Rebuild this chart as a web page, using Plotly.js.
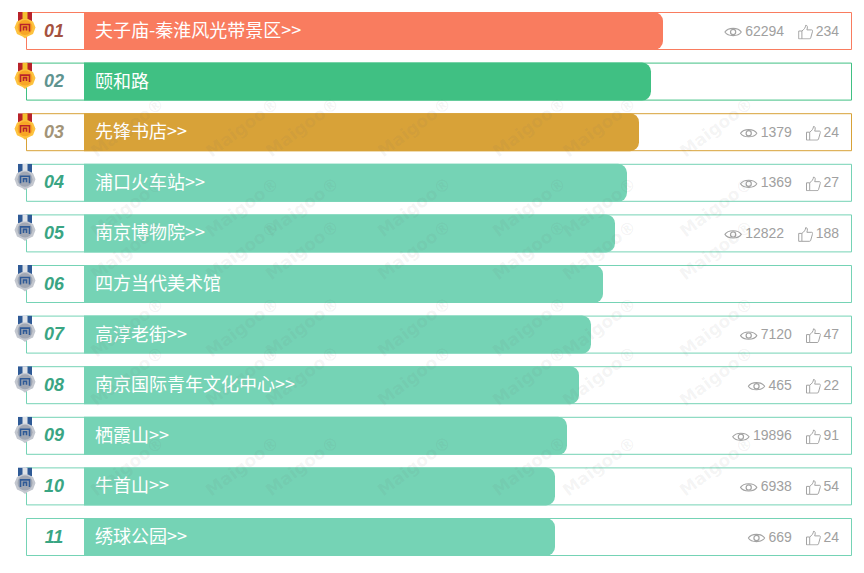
<!DOCTYPE html>
<html>
<head>
<meta charset="utf-8">
<script src="https://cdn.plot.ly/plotly-3.0.1.min.js"></script>
<style>
html, body { margin: 0; padding: 0; background: #fff; }
#graph { width: 864px; height: 573px; }
</style>
</head>
<body>
<div id="graph"></div>
<script>
// Data
const ranks = ['01', '02', '03', '04', '05', '06', '07', '08', '09', '10', '11'];
const names = ['夫子庙-秦淮风光带景区>>', '颐和路', '先锋书店>>', '浦口火车站>>', '南京博物院>>', '四方当代美术馆',
    '高淳老街>>', '南京国际青年文化中心>>', '栖霞山>>', '牛首山>>', '绣球公园>>'];
const barLengths = [579, 567, 555, 543, 531, 519, 507, 495, 483, 471, 471];
const views = [62294, null, 1379, 1369, 12822, null, 7120, 465, 19896, 6938, 669];
const likes = [234, null, 24, 27, 188, null, 47, 22, 91, 54, 24];
const barColors = ['#f97c5f', '#40c083', '#d8a238', '#75d3b5', '#75d3b5', '#75d3b5', '#75d3b5', '#75d3b5', '#75d3b5', '#75d3b5', '#75d3b5'];
const rankColors = ['#a5523f', '#5f9490', '#a29478', '#3aa583', '#3aa583', '#3aa583', '#3aa583', '#3aa583', '#3aa583', '#3aa583', '#3aa583'];

// Page geometry: x axis is one unit per pixel with 0 at the left edge of the bars
const barLeft = 84;
const rowPitch = 50.6;
const firstCenter = 31;
const rows = ranks.map((_, i) => i);
const digitWidth = 7.8;

const svgUri = s => 'data:image/svg+xml;charset=utf-8,' + encodeURIComponent(s);

const medal = (ribbon, edge, fill, inner) => svgUri(
    `<svg xmlns="http://www.w3.org/2000/svg" width="24" height="27" viewBox="0 0 24 27">
    <rect x="5" y="0" width="14" height="9" fill="${ribbon}"/>
    <rect x="9.5" y="0" width="5" height="9" fill="${inner}"/>
    <path d="M12 26.5 L9.5 24.5 L4 22 L1.5 15.5 L4 9.5 L9 7 L15 7 L20 9.5 L22.5 15.5 L20 22 L14.5 24.5 Z" fill="${edge}"/>
    <circle cx="12" cy="15.5" r="7.5" fill="${fill}"/>
    <path d="M7.5 19.5 V12.5 H16.5 V19.5 M10.5 18.5 V15 H13.5 V18.5" fill="none" stroke="${ribbon}" stroke-width="1.6"/>
    </svg>`);
const goldMedal = medal('#b8232a', '#fdc23e', '#f8a626', '#f3c22f');
const silverMedal = medal('#2f5a96', '#c3c7cf', '#a0a7b4', '#dfe3e8');

const eyeIcon = svgUri(
    `<svg xmlns="http://www.w3.org/2000/svg" width="18" height="12" viewBox="0 0 18 12">
    <path d="M0.8 6 C4 1.2 14 1.2 17.2 6 C14 10.8 4 10.8 0.8 6 Z" fill="none" stroke="#a3a3a3" stroke-width="1.1"/>
    <circle cx="9" cy="6" r="2.6" fill="none" stroke="#a3a3a3" stroke-width="1.2"/>
    </svg>`);
const thumbIcon = svgUri(
    `<svg xmlns="http://www.w3.org/2000/svg" width="15" height="15" viewBox="0 0 15 15">
    <path d="M0.6 6.5 H3.8 V14.4 H0.6 Z M3.8 6.5 C6 5 7.5 3 7.6 0.7 C9.3 0.6 9.8 2.6 8.8 5.4 H13.6 C14.6 5.4 14.7 6.4 14.3 7.4 L12.6 13.4 C12.4 14.1 12 14.4 11.2 14.4 H3.8" fill="none" stroke="#a3a3a3" stroke-width="1"/>
    </svg>`);

// Stats flow from the right edge, so their places follow the digit counts
const likeRight = 839 - barLeft;
const likeLeft = likes.map(v => v === null ? null : likeRight - String(v).length * digitWidth);
const thumbLeft = likeLeft.map(v => v === null ? null : v - 17.5);
const viewRight = thumbLeft.map(v => v === null ? null : v - 14);
const eyeLeft = viewRight.map((v, i) => v === null ? null : v - String(views[i]).length * digitWidth - 21);

// Frame round each row, on the base axes
const frameTrace = {
    type: 'bar',
    orientation: 'h',
    y: rows,
    x: rows.map(() => 825),
    base: rows.map(() => -57.5),
    width: 37 / rowPitch,
    marker: { color: 'rgba(255,255,255,0)', line: { color: barColors, width: 1 }, cornerradius: 0 },
    hoverinfo: 'skip'
};

// Rounded ends do not draw in overlay mode, so the bars sit on their own overlaid axes
const barTrace = {
    type: 'bar',
    orientation: 'h',
    xaxis: 'x2',
    yaxis: 'y2',
    y: rows,
    x: barLengths,
    width: 38 / rowPitch,
    marker: { color: barColors, cornerradius: 9 },
    hoverinfo: 'skip'
};

const nameTrace = {
    type: 'scatter',
    mode: 'text',
    xaxis: 'x2',
    yaxis: 'y2',
    y: rows.map(i => i + 1.5 / rowPitch),
    x: rows.map(() => 11),
    text: names,
    textposition: 'middle right',
    textfont: { family: '"Noto Sans CJK SC", "Noto Sans", sans-serif', size: 18, color: '#ffffff' },
    hoverinfo: 'skip'
};

const rankTrace = {
    type: 'scatter',
    mode: 'text',
    xaxis: 'x2',
    yaxis: 'y2',
    y: rows.map(i => i + 1 / rowPitch),
    x: rows.map(() => -30),
    text: ranks,
    textposition: 'middle center',
    textfont: { family: '"Liberation Sans", Arial, sans-serif', size: 18, color: rankColors, weight: 700, style: 'italic' },
    hoverinfo: 'skip'
};

const statFont = { family: '"Liberation Sans", Arial, sans-serif', size: 14, color: '#a0a0a0' };

const viewTrace = {
    type: 'scatter',
    mode: 'text',
    xaxis: 'x2',
    yaxis: 'y2',
    y: rows.map(i => i + 1 / rowPitch),
    x: viewRight,
    text: views.map(v => v === null ? '' : String(v)),
    textposition: 'middle left',
    textfont: statFont,
    hoverinfo: 'skip'
};

const likeTrace = {
    type: 'scatter',
    mode: 'text',
    xaxis: 'x2',
    yaxis: 'y2',
    y: rows.map(i => i + 1 / rowPitch),
    x: rows.map(() => likeRight),
    text: likes.map(v => v === null ? '' : String(v)),
    textposition: 'middle left',
    textfont: statFont,
    hoverinfo: 'skip'
};

const images = [];
rows.forEach(i => {
    if (i < 10) {
        images.push({
            source: i < 3 ? goldMedal : silverMedal,
            xref: 'x', yref: 'y', x: 13 - barLeft, y: i - 19 / rowPitch,
            sizex: 24, sizey: 27 / rowPitch,
            xanchor: 'left', yanchor: 'top', sizing: 'stretch', layer: 'above'
        });
    }
    if (views[i] !== null) {
        images.push({
            source: eyeIcon,
            xref: 'x', yref: 'y', x: eyeLeft[i], y: i + 1 / rowPitch,
            sizex: 18, sizey: 12 / rowPitch,
            xanchor: 'left', yanchor: 'middle', sizing: 'stretch', layer: 'above'
        });
        images.push({
            source: thumbIcon,
            xref: 'x', yref: 'y', x: thumbLeft[i], y: i + 1 / rowPitch,
            sizex: 15, sizey: 15 / rowPitch,
            xanchor: 'left', yanchor: 'middle', sizing: 'stretch', layer: 'above'
        });
    }
});

// Site watermark, tiled over the page; marks that run off the page are left out
const markCols = [84, 199, 302, 414, 529, 643, 760];
const markRows = [90, 170, 250, 327, 413, 503];
const annotations = [];
markCols.forEach(x => markRows.forEach(y => {
    annotations.push({
        text: 'Maigoo®',
        xref: 'paper', yref: 'paper',
        x: x / 864, y: 1 - y / 573,
        showarrow: false,
        textangle: -37,
        font: { family: '"DejaVu Sans", sans-serif', size: 17, weight: 700, color: 'rgba(110,110,110,0.07)' }
    });
}));

const xRange = [-barLeft, 864 - barLeft];
const yRange = [(573 - firstCenter) / rowPitch, -firstCenter / rowPitch];

const layout = {
    width: 864,
    height: 573,
    margin: { l: 0, r: 0, t: 0, b: 0 },
    paper_bgcolor: '#ffffff',
    plot_bgcolor: '#ffffff',
    showlegend: false,
    barmode: 'group',
    xaxis: { range: xRange, visible: false, fixedrange: true },
    yaxis: { range: yRange, visible: false, fixedrange: true },
    xaxis2: { range: xRange, visible: false, fixedrange: true, overlaying: 'x' },
    yaxis2: { range: yRange, visible: false, fixedrange: true, overlaying: 'y' },
    images: images,
    annotations: annotations
};

const traces = [frameTrace, barTrace, rankTrace, nameTrace, viewTrace, likeTrace];
Plotly.newPlot('graph', traces, layout, { displayModeBar: false, staticPlot: true });
</script>
</body>
</html>
